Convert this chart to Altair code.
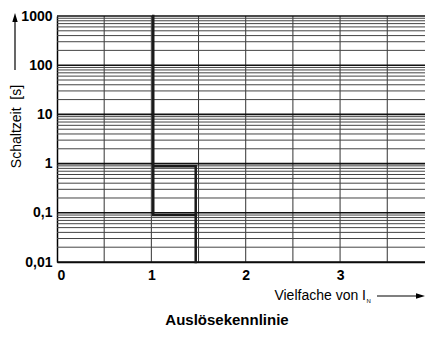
import altair as alt
import pandas as pd

# ---- data ----
x_ticks = [0, 1, 2, 3]
x_grid = [0.5, 1.0, 1.5, 2.0, 2.5, 3.0, 3.5]
y_major = [0.01, 0.1, 1, 10, 100, 1000]
y_minor = [k * d for d in [0.01, 0.1, 1, 10, 100] for k in range(2, 10)]

# tripping characteristic (two boundary lines)
curve_id = ["upper", "upper", "upper", "lower", "lower", "lower"]
curve_order = [0, 1, 2, 0, 1, 2]
curve_x = [1.02, 1.02, 1.47, 1.02, 1.47, 1.47]
curve_y = [1000, 0.09, 0.09, 0.88, 0.88, 0.01]

FONT = "Liberation Sans"
W, H = 368, 246

xs = alt.Scale(domain=[0, 3.9], nice=False, zero=False)
ys = alt.Scale(type="log", domain=[0.01, 1000], nice=False)

xa = alt.Axis(
    values=x_ticks, grid=False, ticks=False, domain=True, domainColor="black", domainWidth=1.5,
    labelFont=FONT, labelFontSize=14, labelFontWeight="bold", labelColor="black",
    labelPadding=6, title=None)
ya = alt.Axis(
    values=y_major, grid=False, ticks=False, domain=True, domainColor="black", domainWidth=1.5,
    labelExpr="replace(format(datum.value, '~g'), '.', ',')",
    labelFont=FONT, labelFontSize=14, labelFontWeight="bold", labelColor="black",
    labelPadding=5,
    title="Schaltzeit\u00a0 [s]", titleFont=FONT, titleFontSize=14, titleFontWeight="normal",
    titleColor="black", titleX=-41, titleY=110, titleAlign="center", titleBaseline="middle")

grid_v = alt.Chart(pd.DataFrame({"x": x_grid})).mark_rule(color="#333", strokeWidth=1).encode(
    x=alt.X("x:Q", scale=xs, axis=xa))
grid_minor = alt.Chart(pd.DataFrame({"y": y_minor})).mark_rule(color="#444", strokeWidth=1).encode(
    y=alt.Y("y:Q", scale=ys, axis=ya))
grid_major = alt.Chart(pd.DataFrame({"y": y_major})).mark_rule(color="#111", strokeWidth=1.6).encode(
    y=alt.Y("y:Q", scale=ys, axis=ya))

curve_df = pd.DataFrame({"id": curve_id, "o": curve_order, "x": curve_x, "y": curve_y})
curve = alt.Chart(curve_df).mark_line(color="#1a1a1a", strokeWidth=2.5, strokeCap="square").encode(
    x=alt.X("x:Q", scale=xs, axis=xa),
    y=alt.Y("y:Q", scale=ys, axis=ya),
    detail="id:N",
    order="o:Q",
)

one = pd.DataFrame({"a": [0]})
# y-axis arrow
y_arrow_line = alt.Chart(one).mark_rule(color="black", strokeWidth=1.2).encode(
    x=alt.value(-42), y=alt.value(54), y2=alt.value(4))
y_arrow_head = alt.Chart(one).mark_point(
    shape="M0,-1L0.6,1L-0.6,1Z", filled=True, color="black", opacity=1, size=81).encode(
    x=alt.value(-42), y=alt.value(1.5))

# x-axis title with subscript and arrow
x_title = alt.Chart(one).mark_text(
    text="Vielfache von I", font=FONT, fontSize=14, align="right", baseline="middle", color="black").encode(
    x=alt.value(309), y=alt.value(280))
x_sub = alt.Chart(one).mark_text(
    text="N", font=FONT, fontSize=6, align="left", baseline="middle", color="black").encode(
    x=alt.value(309.5), y=alt.value(285))
x_arrow_line = alt.Chart(one).mark_rule(color="black", strokeWidth=1.2).encode(
    x=alt.value(320), x2=alt.value(362), y=alt.value(280))
x_arrow_head = alt.Chart(one).mark_point(
    shape="M1,0L-1,0.6L-1,-0.6Z", filled=True, color="black", opacity=1, size=81).encode(
    x=alt.value(363.5), y=alt.value(280))

title = alt.Chart(one).mark_text(
    text="Auslösekennlinie", font=FONT, fontSize=15, fontWeight="bold", align="center",
    baseline="middle", color="black").encode(
    x=alt.value(170), y=alt.value(304))

chart = alt.layer(
    grid_v, grid_minor, grid_major, curve,
    y_arrow_line, y_arrow_head, x_title, x_sub, x_arrow_line, x_arrow_head, title
).resolve_scale(x="shared", y="shared").properties(
    width=W, height=H,
    autosize=alt.AutoSizeParams(type="none"),
    padding={"left": 49, "top": 8, "right": 0, "bottom": 87},
).configure_view(stroke=None)

chart.save("out.html", embed_options={"renderer": "svg", "actions": False})
